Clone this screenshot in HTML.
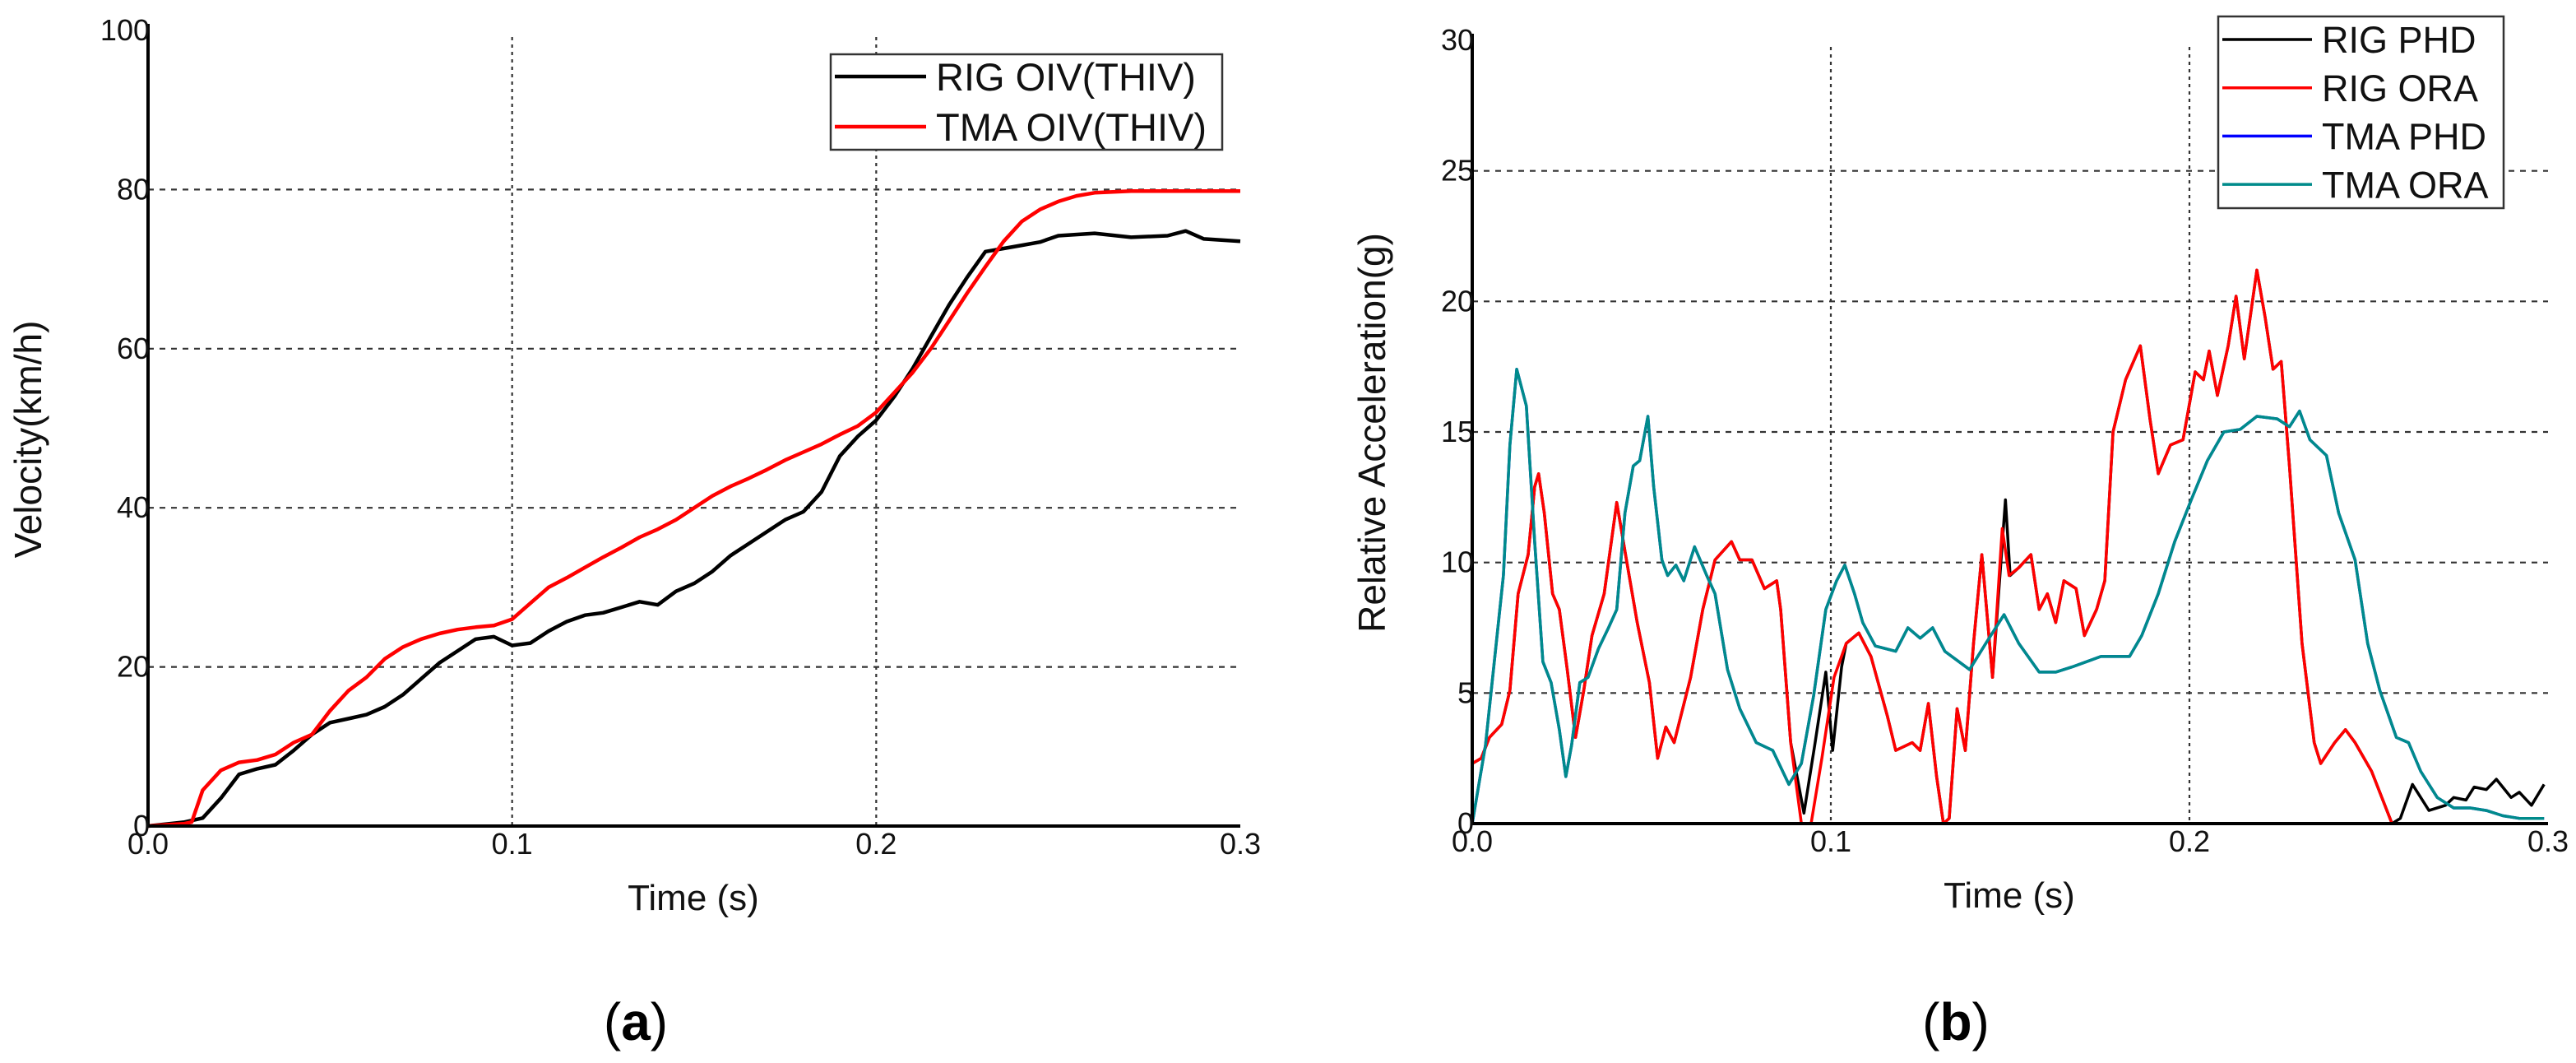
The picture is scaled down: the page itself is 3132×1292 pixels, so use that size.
<!DOCTYPE html>
<html><head><meta charset="utf-8"><style>
html,body{margin:0;padding:0;background:#fff;overflow:hidden}
svg{display:block}
text{font-family:"Liberation Sans",sans-serif}
</style></head><body>
<svg id="fig" width="3132" height="1292" viewBox="0 0 3132 1292" xmlns="http://www.w3.org/2000/svg">
<g id="chartA"></g>
<g id="chartB"></g>
<text x="773" y="1264" font-family="Liberation Serif, serif" font-size="64" text-anchor="middle">(<tspan font-weight="bold">a</tspan>)</text>
<text x="2378" y="1264" font-family="Liberation Serif, serif" font-size="64" text-anchor="middle">(<tspan font-weight="bold">b</tspan>)</text>
</svg>
<script>
// ---- Chart A data ----
const aXTicks=[0,0.1,0.2,0.3];
const aXTickLabels=["0.0","0.1","0.2","0.3"];
const aYTicks=[0,20,40,60,80,100];
const rigOivT=[0,0.01,0.015,0.02,0.025,0.03,0.035,0.04,0.045,0.05,0.055,0.06,0.065,0.07,0.075,0.08,0.085,0.09,0.095,0.1,0.105,0.11,0.115,0.12,0.125,0.13,0.135,0.14,0.145,0.15,0.155,0.16,0.165,0.17,0.175,0.18,0.185,0.19,0.195,0.2,0.205,0.21,0.215,0.22,0.225,0.23,0.235,0.24,0.245,0.25,0.26,0.27,0.28,0.285,0.29,0.3];
const rigOivV=[0,0.5,1,3.5,6.5,7.2,7.7,9.5,11.5,13,13.5,14,15,16.5,18.5,20.5,22,23.5,23.8,22.7,23,24.5,25.7,26.5,26.8,27.5,28.2,27.8,29.5,30.5,32,34,35.5,37,38.5,39.5,42,46.5,49,51,54,57.5,61.5,65.5,69,72.2,72.6,73,73.4,74.2,74.5,74,74.2,74.8,73.8,73.5];
const tmaOivT=[0,0.01,0.012,0.015,0.02,0.025,0.03,0.035,0.04,0.045,0.05,0.055,0.06,0.065,0.07,0.075,0.08,0.085,0.09,0.095,0.1,0.105,0.11,0.115,0.12,0.125,0.13,0.135,0.14,0.145,0.15,0.155,0.16,0.165,0.17,0.175,0.18,0.185,0.19,0.195,0.2,0.205,0.21,0.215,0.22,0.225,0.23,0.235,0.24,0.245,0.25,0.255,0.26,0.27,0.3];
const tmaOivV=[0,0.3,0.5,4.5,7,8,8.3,9,10.5,11.5,14.5,17,18.7,21,22.5,23.5,24.2,24.7,25,25.2,26,28,30,31.2,32.5,33.8,35,36.3,37.3,38.5,40,41.5,42.7,43.7,44.8,46,47,48,49.2,50.3,52,54.5,57,60,63.5,67,70.3,73.5,76,77.5,78.5,79.2,79.6,79.8,79.8];

// ---- Chart B data ----
const bXTicks=[0,0.1,0.2,0.3];
const bXTickLabels=["0.0","0.1","0.2","0.3"];
const bYTicks=[0,5,10,15,20,25,30];
const tmaOraT=[0,.0037,.0087,.0105,.0124,.0151,.0174,.0197,.0220,.0243,.0261,.0277,.0300,.0323,.0352,.0380,.0403,.0426,.0449,.0467,.0490,.0506,.0529,.0545,.0568,.0590,.0620,.0654,.0677,.0712,.0746,.0792,.0838,.0883,.0918,.0952,.0986,.1016,.1039,.1066,.1089,.1124,.1181,.1215,.1249,.1284,.1318,.1387,.1432,.1483,.1524,.1581,.1627,.1673,.1753,.1833,.1867,.1913,.1959,.2005,.2050,.2096,.2142,.2188,.2245,.2279,.2307,.2336,.2382,.2416,.2462,.2497,.2531,.2577,.2611,.2645,.2691,.2737,.2783,.2828,.2874,.2920,.2989];
const tmaOraV=[0,3,9.5,14.5,17.4,16,10.8,6.2,5.4,3.6,1.8,3,5.4,5.6,6.7,7.5,8.2,11.9,13.7,13.9,15.6,12.9,10.1,9.5,9.9,9.3,10.6,9.5,8.8,5.9,4.4,3.1,2.8,1.5,2.3,4.9,8.2,9.3,9.9,8.8,7.7,6.8,6.6,7.5,7.1,7.5,6.6,5.9,6.9,8.0,6.9,5.8,5.8,6.0,6.4,6.4,7.2,8.8,10.8,12.4,13.9,15.0,15.1,15.6,15.5,15.2,15.8,14.7,14.1,11.9,10.1,6.9,5.1,3.3,3.1,2.0,1.0,0.6,0.6,0.5,0.3,0.2,0.2];
const tmaPhdT=tmaOraT.slice();
const tmaPhdV=tmaOraV.slice();
const rigOraT=[0,.0025,.0048,.0082,.0105,.0128,.0156,.0174,.0185,.0201,.0224,.0243,.0265,.0288,.0311,.0334,.0368,.0403,.0430,.0460,.0494,.0517,.0540,.0563,.0609,.0643,.0677,.0723,.0746,.0780,.0815,.0849,.0860,.0888,.0918,.0945,.0975,.1009,.1043,.1078,.1112,.1158,.1181,.1227,.1249,.1272,.1295,.1314,.1330,.1352,.1375,.1398,.1421,.1451,.1478,.1497,.1524,.1558,.1581,.1604,.1627,.1650,.1684,.1707,.1741,.1764,.1787,.1822,.1863,.1890,.1913,.1947,.1982,.2016,.2039,.2055,.2078,.2108,.2130,.2153,.2188,.2211,.2233,.2256,.2279,.2314,.2348,.2366,.2405,.2435,.2462,.2508,.2565,.27,.3];
const rigOraV=[2.3,2.5,3.3,3.8,5.1,8.8,10.3,12.9,13.4,11.9,8.8,8.2,5.9,3.3,5.1,7.2,8.8,12.3,10.1,7.7,5.4,2.5,3.7,3.1,5.6,8.2,10.1,10.8,10.1,10.1,9.0,9.3,8.2,3.1,0,0,2.5,5.6,6.9,7.3,6.4,4.1,2.8,3.1,2.8,4.6,1.8,0,0.2,4.4,2.8,6.9,10.3,5.6,11.3,9.5,9.8,10.3,8.2,8.8,7.7,9.3,9.0,7.2,8.2,9.3,15.0,17.0,18.3,15.5,13.4,14.5,14.7,17.3,17.0,18.1,16.4,18.3,20.2,17.8,21.2,19.4,17.4,17.7,13.7,6.9,3.1,2.3,3.1,3.6,3.1,2.0,0,0,0];
const rigPhdT=[0,.0025,.0048,.0082,.0105,.0128,.0156,.0174,.0185,.0201,.0224,.0243,.0265,.0288,.0311,.0334,.0368,.0403,.0430,.0460,.0494,.0517,.0540,.0563,.0609,.0643,.0677,.0723,.0746,.0780,.0815,.0849,.0860,.0888,.0925,.0955,.0986,.1005,.1030,.1043,.1078,.1112,.1158,.1181,.1227,.1249,.1272,.1295,.1314,.1330,.1352,.1375,.1398,.1421,.1451,.1487,.1500,.1524,.1558,.1581,.1604,.1627,.1650,.1684,.1707,.1741,.1764,.1787,.1822,.1863,.1890,.1913,.1947,.1982,.2016,.2039,.2055,.2078,.2108,.2130,.2153,.2188,.2211,.2233,.2256,.2279,.2314,.2348,.2366,.2405,.2435,.2462,.2508,.2565,.2588,.2622,.2668,.2714,.2737,.2771,.2794,.2828,.2856,.2897,.2920,.2954,.2989];
const rigPhdV=[2.3,2.5,3.3,3.8,5.1,8.8,10.3,12.9,13.4,11.9,8.8,8.2,5.9,3.3,5.1,7.2,8.8,12.3,10.1,7.7,5.4,2.5,3.7,3.1,5.6,8.2,10.1,10.8,10.1,10.1,9.0,9.3,8.2,3.1,0.4,3.0,5.8,2.8,6.0,6.9,7.3,6.4,4.1,2.8,3.1,2.8,4.6,1.8,0,0.2,4.4,2.8,6.9,10.3,5.6,12.4,9.5,9.8,10.3,8.2,8.8,7.7,9.3,9.0,7.2,8.2,9.3,15.0,17.0,18.3,15.5,13.4,14.5,14.7,17.3,17.0,18.1,16.4,18.3,20.2,17.8,21.2,19.4,17.4,17.7,13.7,6.9,3.1,2.3,3.1,3.6,3.1,2.0,0,0.2,1.5,0.5,0.7,1.0,0.9,1.4,1.3,1.7,1.0,1.2,0.7,1.5];

const NS="http://www.w3.org/2000/svg";
function mk(parent,tag,attrs){const e=document.createElementNS(NS,tag);for(const k in attrs)e.setAttribute(k,attrs[k]);parent.appendChild(e);return e;}

function drawChart(g,cfg){
  const sx=t=>cfg.x0+(t-cfg.xmin)/(cfg.xmax-cfg.xmin)*(cfg.x1-cfg.x0);
  const sy=v=>cfg.y0-(v-cfg.ymin)/(cfg.ymax-cfg.ymin)*(cfg.y0-cfg.y1);
  cfg.yTicks.forEach(v=>{
    if(v===cfg.ymin||v===cfg.ymax)return;
    const l=mk(g,'line',{x1:cfg.x0,x2:cfg.x1,y1:sy(v),y2:sy(v),stroke:'#333','stroke-width':2.2,'stroke-dasharray':'7 7'});
    
    
  });
  cfg.xTicks.forEach(t=>{
    if(t===cfg.xmin||t===cfg.xmax)return;
    const l=mk(g,'line',{x1:sx(t),x2:sx(t),y1:cfg.y1+8,y2:cfg.y0,stroke:'#333','stroke-width':2.2,'stroke-dasharray':'4 5'});
    
    
  });
  cfg.series.forEach(s=>{
    const d=s.t.map((t,i)=>(i?'L':'M')+sx(t).toFixed(1)+' '+sy(s.v[i]).toFixed(1)).join(' ');
    const p=mk(g,'path',{d:d,fill:'none',stroke:s.color,'stroke-width':cfg.lw,'stroke-linejoin':'round'});
    
    
  });
  const ax=mk(g,'line',{x1:cfg.x0,x2:cfg.x1,y1:cfg.y0,y2:cfg.y0,stroke:'#000','stroke-width':4});
  
  
  const ay=mk(g,'line',{x1:cfg.x0,x2:cfg.x0,y1:cfg.y1-8,y2:cfg.y0,stroke:'#000','stroke-width':4});
  
  
  cfg.yTicks.forEach(v=>{
    const tx=mk(g,'text',{x:cfg.x0+2,y:sy(v)+12,'font-size':36,'text-anchor':'end',fill:'#111'});
    tx.textContent=String(v);
    
    
  });
  cfg.xTicks.forEach((t,i)=>{
    const tx=mk(g,'text',{x:sx(t),y:cfg.y0+34,'font-size':36,'text-anchor':'middle',fill:'#111'});
    tx.textContent=cfg.xLabels[i];
    
    
  });
  const xt=mk(g,'text',{x:cfg.xtX,y:cfg.y0+102,'font-size':44,'text-anchor':'middle',fill:'#111'});
  xt.textContent='Time (s)';
  
  
  const yt=mk(g,'text',{x:0,y:0,'font-size':46,'text-anchor':'middle',fill:'#111',transform:`translate(${cfg.ytX},${cfg.ytY}) rotate(-90)`});
  yt.textContent=cfg.yTitle;
  
  
  const L=cfg.legend;
  const lg=mk(g,'g',{});
  
  
  mk(lg,'rect',{x:L.x,y:L.y,width:L.w,height:L.h,fill:'#fff',stroke:'#333','stroke-width':2.5});
  cfg.series.slice().sort((a,b)=>a.order-b.order).forEach((s,i)=>{
    const yy=L.ey0+i*L.dy;
    const e=mk(lg,'g',{});
    
    
    mk(e,'line',{x1:L.x+5,x2:L.x+L.lineW,y1:yy,y2:yy,stroke:s.color,'stroke-width':cfg.lw});
    const tx=mk(e,'text',{x:L.x+L.lineW+12,y:yy+L.fs*0.36,'font-size':L.fs,fill:'#111'});
    tx.textContent=s.label;
  });
}

drawChart(document.getElementById('chartA'),{
  x0:180,x1:1508,y0:1004,y1:37,xmin:0,xmax:0.3,ymin:0,ymax:100,
  xTicks:aXTicks,xLabels:aXTickLabels,yTicks:aYTicks,lw:4.5,
  xtX:843,ytX:50,ytY:534,yTitle:'Velocity(km/h)',
  series:[
    {t:rigOivT,v:rigOivV,color:'#000',name:'rig-oiv-line',label:'RIG OIV(THIV)',order:0},
    {t:tmaOivT,v:tmaOivV,color:'#f00',name:'tma-oiv-line',label:'TMA OIV(THIV)',order:1}
  ],
  legend:{x:1010,y:66,w:476,h:116,ey0:93,dy:61,lineW:116,fs:47}
});

drawChart(document.getElementById('chartB'),{
  x0:1790,x1:3098,y0:1001,y1:49,xmin:0,xmax:0.3,ymin:0,ymax:30,
  xTicks:bXTicks,xLabels:bXTickLabels,yTicks:bYTicks,lw:3.5,
  xtX:2443,ytX:1684,ytY:526,yTitle:'Relative Acceleration(g)',
  series:[
    {t:rigPhdT,v:rigPhdV,color:'#000',name:'rig-phd-line',label:'RIG PHD',order:0},
    {t:rigOraT,v:rigOraV,color:'#f00',name:'rig-ora-line',label:'RIG ORA',order:1},
    {t:tmaPhdT,v:tmaPhdV,color:'#00f',name:'tma-phd-line',label:'TMA PHD',order:2},
    {t:tmaOraT,v:tmaOraV,color:'#008b8b',name:'tma-ora-line',label:'TMA ORA',order:3}
  ],
  legend:{x:2697,y:20,w:347,h:233,ey0:48,dy:58.7,lineW:114,fs:45}
});
</script>
</body></html>
